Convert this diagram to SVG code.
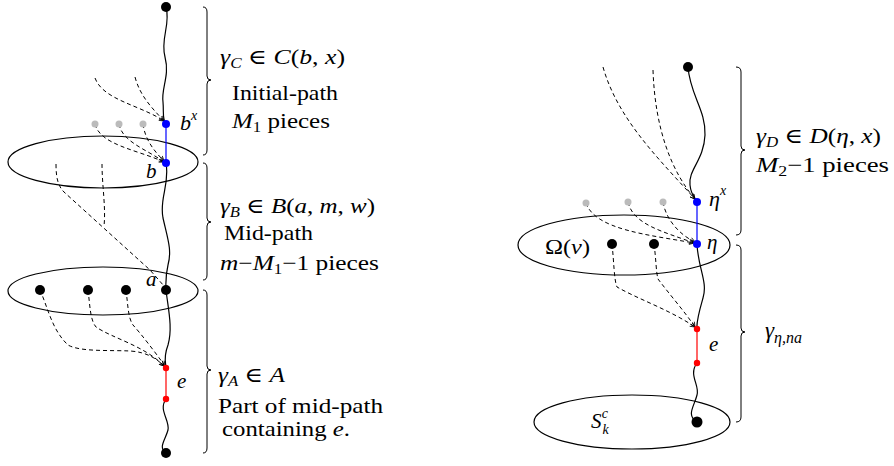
<svg xmlns="http://www.w3.org/2000/svg" width="894" height="466" viewBox="0 0 894 466">
<defs>
<marker id="ar" viewBox="0 0 10 10" refX="9" refY="5" markerWidth="6" markerHeight="6" orient="auto" markerUnits="userSpaceOnUse">
<path d="M1,1 L9,5 L1,9" fill="none" stroke="#000" stroke-width="1.3"/>
</marker>
</defs>
<style>
text{font-family:"Liberation Serif","DejaVu Serif",serif;font-size:21px;fill:#000}
.i{font-style:italic}
.s{font-size:14px}
.ell{fill:none;stroke:#000;stroke-width:1.2}
.w{fill:none;stroke:#000;stroke-width:1.2}
.d{fill:none;stroke:#000;stroke-width:1;stroke-dasharray:4 3}
.br{fill:none;stroke:#000;stroke-width:1}
.blk{fill:#000}
.blu{fill:#0000ff}
.red{fill:#ff0000}
.gry{fill:#bbbbbb}
</style>
<rect width="894" height="466" fill="#fff"/>

<!-- ellipses -->
<g id="ellipse-top-left"><ellipse class="ell" cx="103" cy="162" rx="95" ry="26"/></g>
<g id="ellipse-bottom-left"><ellipse class="ell" cx="103" cy="291" rx="95" ry="24"/></g>
<g id="ellipse-omega"><ellipse class="ell" cx="624" cy="245" rx="106" ry="30"/></g>
<g id="ellipse-skc"><ellipse class="ell" cx="632" cy="422" rx="98" ry="27"/></g>

<g id="connectors">
<!-- left paths -->
<path class="w" d="M166,7 C171,25 160,38 165,57 C170,76 161,88 163,102 C164,113 162,119 166,124"/>
<path stroke="#0000ff" stroke-width="1.2" d="M166,124 L166,163"/>
<path class="w" d="M166,163 C170,185 159,198 163,218 C168,240 172,250 168,265 C165,278 166,284 166,290"/>
<path class="w" d="M166,290 C168,308 173,328 168,345 C163,358 166,364 166,368"/>
<path stroke="#ff0000" stroke-width="1.2" d="M166,368 L166,399"/>
<path class="w" d="M166,399 C158,410 170,420 168,430 C165,441 158,447 166,453"/>
<!-- dashed to b^x -->
<path class="d" marker-end="url(#ar)" d="M95,78 C103,100 140,105 164,121"/>
<path class="d" marker-end="url(#ar)" d="M135,77 C140,96 152,108 164,121"/>
<!-- gray to b -->
<path class="d" marker-end="url(#ar)" d="M95,124 C100,145 138,150 164,162"/>
<path class="d" marker-end="url(#ar)" d="M119,124 C122,142 148,150 164,162"/>
<path class="d" marker-end="url(#ar)" d="M143,124 C145,140 155,152 164,161"/>
<!-- dashed to a -->
<path class="d" d="M56,164 C56,178 58,186 64,192 L150,270 L164,286"/>
<path class="d" d="M102,164 C102,185 106,208 104,226"/>
<!-- dashed to e -->
<path class="d" marker-end="url(#ar)" d="M40,290 C48,308 52,330 68,345 C80,352 110,350 130,351 C148,352 158,360 164,366"/>
<path class="d" marker-end="url(#ar)" d="M88,290 C90,305 90,320 96,327 C112,338 145,346 164,366"/>
<path class="d" marker-end="url(#ar)" d="M126,290 C128,305 128,318 133,325 C142,335 155,352 165,366"/>

<!-- right paths -->
<path class="w" d="M688,67 C690,95 706,110 705,135 C704,160 688,170 690,185 C691,195 695,198 697,202"/>
<path stroke="#0000ff" stroke-width="1.2" d="M697,202 L697,244"/>
<path class="w" d="M697,244 C698,268 708,282 703,298 C699,312 696,322 697,329"/>
<path stroke="#ff0000" stroke-width="1.2" d="M697,329 L697,363"/>
<path class="w" d="M697,363 C688,375 700,385 697,395 C694,407 686,415 697,422"/>
<path class="d" marker-end="url(#ar)" d="M603,67 C618,120 660,160 695,199"/>
<path class="d" marker-end="url(#ar)" d="M653,70 C655,130 672,172 695,199"/>
<path class="d" marker-end="url(#ar)" d="M586,203 C595,230 650,235 694,243"/>
<path class="d" marker-end="url(#ar)" d="M628,202 C633,225 665,232 694,243"/>
<path class="d" marker-end="url(#ar)" d="M663,202 C666,220 680,235 695,242"/>
<path class="d" marker-end="url(#ar)" d="M612,244 C614,262 614,280 617,287 C640,300 670,310 695,327"/>
<path class="d" marker-end="url(#ar)" d="M654,244 C656,258 656,272 658,279 C670,295 685,312 695,327"/>
</g>

<!-- braces -->
<g id="braces">
<path class="br" d="M203,7 Q207,7 207,12 L207,76 Q207,80 211,80 Q207,80 207,84 L207,150 Q207,155 203,155"/>
<path class="br" d="M203,163 Q207,163 207,168 L207,218 Q207,222 211,222 Q207,222 207,226 L207,275 Q207,280 203,280"/>
<path class="br" d="M203,290 Q207,290 207,295 L207,366 Q207,370 211,370 Q207,370 207,374 L207,448 Q207,453 203,453"/>
<path class="br" d="M736,67 Q741,67 741,72 L741,146 Q741,150 745,150 Q741,150 741,154 L741,230 Q741,235 736,235"/>
<path class="br" d="M736,245 Q741,245 741,250 L741,328 Q741,332 745,332 Q741,332 741,336 L741,417 Q741,422 736,422"/>
</g>

<!-- nodes -->
<g id="n-top-left"><circle class="blk" cx="166" cy="7" r="5"/></g>
<g id="n-bx"><circle class="blu" cx="166" cy="124" r="4"/><text x="180" y="130" class="i" style="font-size:22px">b<tspan class="s" dy="-10">x</tspan></text></g>
<g id="n-b"><circle class="blu" cx="166" cy="163" r="4"/><text x="146" y="178" class="i">b</text></g>
<g id="n-g1"><circle class="gry" cx="95" cy="124" r="3.5"/></g>
<g id="n-g2"><circle class="gry" cx="119" cy="124" r="3.5"/></g>
<g id="n-g3"><circle class="gry" cx="143" cy="124" r="3.5"/></g>
<g id="n-a"><circle class="blk" cx="166" cy="290" r="5"/><text x="146" y="286" class="i">a</text></g>
<g id="n-l1"><circle class="blk" cx="40" cy="290" r="5"/></g>
<g id="n-l2"><circle class="blk" cx="88" cy="290" r="5"/></g>
<g id="n-l3"><circle class="blk" cx="126" cy="290" r="5"/></g>
<g id="n-e1"><circle class="red" cx="166" cy="368" r="3.2"/><text x="177" y="388" class="i">e</text></g>
<g id="n-e2"><circle class="red" cx="166" cy="399" r="3.2"/></g>
<g id="n-bottom-left"><circle class="blk" cx="166" cy="453" r="5"/></g>

<g id="n-top-right"><circle class="blk" cx="688" cy="67" r="5"/></g>
<g id="n-etax"><circle class="blu" cx="697" cy="202" r="4"/><text x="709" y="206" class="i" style="font-size:22px">η<tspan class="s" dy="-11">x</tspan></text></g>
<g id="n-eta"><circle class="blu" cx="697" cy="244" r="4"/><text x="707" y="249" class="i">η</text></g>
<g id="n-rg1"><circle class="gry" cx="586" cy="203" r="3.5"/></g>
<g id="n-rg2"><circle class="gry" cx="628" cy="202" r="3.5"/></g>
<g id="n-rg3"><circle class="gry" cx="663" cy="202" r="3.5"/></g>
<g id="n-r1"><circle class="blk" cx="612" cy="244" r="5"/></g>
<g id="n-r2"><circle class="blk" cx="654" cy="244" r="5"/></g>
<g id="n-re1"><circle class="red" cx="697" cy="329" r="3.2"/><text x="709" y="351" class="i">e</text></g>
<g id="n-re2"><circle class="red" cx="697" cy="363" r="3.2"/></g>
<g id="n-bottom-right"><circle class="blk" cx="697" cy="422" r="5.5"/></g>

<g id="region-labels">
<text x="545" y="254" textLength="45" lengthAdjust="spacingAndGlyphs">Ω(<tspan class="i">v</tspan>)</text>
<text x="591" y="428" class="i">S<tspan class="s" dx="1" dy="6">k</tspan><tspan class="s" dx="-7" dy="-16">c</tspan></text>
</g>

<g id="side-texts">
<text x="220" y="64" textLength="125" lengthAdjust="spacingAndGlyphs"><tspan class="i">γ</tspan><tspan class="i s" dy="4">C</tspan><tspan dy="-4"> ∈ </tspan><tspan class="i">C</tspan>(<tspan class="i">b</tspan>, <tspan class="i">x</tspan>)</text>
<text x="232" y="100" textLength="106" lengthAdjust="spacingAndGlyphs">Initial-path</text>
<text x="232" y="128" textLength="98" lengthAdjust="spacingAndGlyphs"><tspan class="i">M</tspan><tspan class="s" dy="4">1</tspan><tspan dy="-4"> pieces</tspan></text>
<text x="220" y="213" textLength="155" lengthAdjust="spacingAndGlyphs"><tspan class="i">γ</tspan><tspan class="i s" dy="4">B</tspan><tspan dy="-4"> ∈ </tspan><tspan class="i">B</tspan>(<tspan class="i">a</tspan>, <tspan class="i">m</tspan>, <tspan class="i">w</tspan>)</text>
<text x="224" y="240" textLength="89" lengthAdjust="spacingAndGlyphs">Mid-path</text>
<text x="220" y="270" textLength="159" lengthAdjust="spacingAndGlyphs"><tspan class="i">m</tspan>−<tspan class="i">M</tspan><tspan class="s" dy="4">1</tspan><tspan dy="-4">−1 pieces</tspan></text>
<text x="218" y="382" textLength="67" lengthAdjust="spacingAndGlyphs"><tspan class="i">γ</tspan><tspan class="i s" dy="4">A</tspan><tspan dy="-4"> ∈ </tspan><tspan class="i">A</tspan></text>
<text x="218" y="413" textLength="165" lengthAdjust="spacingAndGlyphs">Part of mid-path</text>
<text x="222" y="436" textLength="128" lengthAdjust="spacingAndGlyphs">containing <tspan class="i">e</tspan>.</text>
<text x="756" y="143" textLength="125" lengthAdjust="spacingAndGlyphs"><tspan class="i">γ</tspan><tspan class="i s" dy="4">D</tspan><tspan dy="-4"> ∈ </tspan><tspan class="i">D</tspan>(<tspan class="i">η</tspan>, <tspan class="i">x</tspan>)</text>
<text x="756" y="172" textLength="133" lengthAdjust="spacingAndGlyphs"><tspan class="i">M</tspan><tspan class="s" dy="4">2</tspan><tspan dy="-4">−1 pieces</tspan></text>
<text x="765" y="338" style="font-size:23px"><tspan class="i">γ</tspan><tspan class="i" style="font-size:16px" dy="5">η,na</tspan></text>
</g>
</svg>
